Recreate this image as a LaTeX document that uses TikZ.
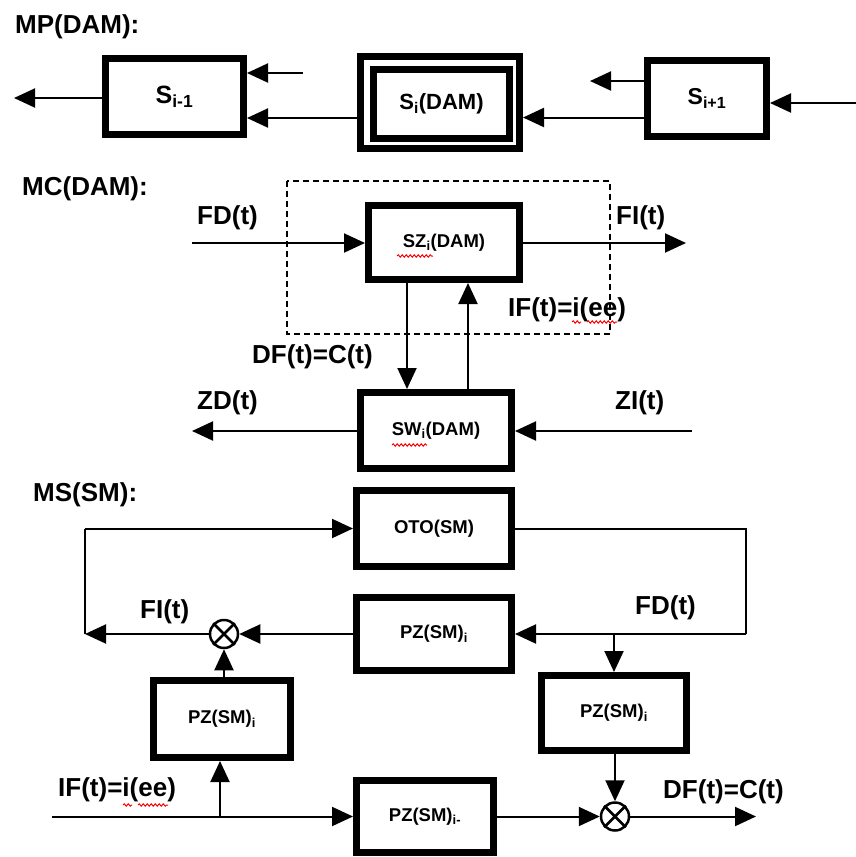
\documentclass[tikz,border=0pt]{standalone}
\usepackage{fontspec}
\setmainfont{Liberation Sans}
\usetikzlibrary{arrows.meta,decorations.pathmorphing}
\tikzset{
  blk/.style={draw,line width=7pt,inner sep=0pt,font=\bfseries\fontsize{18.5}{20}\selectfont},
  lbl/.style={anchor=west,inner sep=0pt,font=\bfseries\fontsize{26}{28}\selectfont},
  arr/.style={line width=2pt,-{Triangle[length=21pt,width=19pt]}},
  ln/.style={line width=2pt},
  otim/.style={draw,circle,line width=2.5pt,minimum size=28pt,inner sep=0pt},
  squig/.style={red,line width=1pt,decorate,decoration={snake,segment length=4pt,amplitude=1.2pt}}
}
\begin{document}
\begin{tikzpicture}[x=1pt,y=-1pt]
\useasboundingbox (0,0) rectangle (856,857);
% ---------- MP(DAM)
\node[lbl] (tMP) at (15,27) {MP(DAM):};
\node[blk,minimum width=138pt,minimum height=76pt,font=\bfseries\fontsize{25}{27}\selectfont] (Sm) at (174.5,96.5) {S\textsubscript{i-1}};
\node[blk,minimum width=159pt,minimum height=92pt] (Si) at (440,102.5) {};
\node[blk,minimum width=136pt,minimum height=69pt,font=\bfseries\fontsize{22}{24}\selectfont] (Sii) at (441.5,104) {S\textsubscript{i}(DAM)};
\node[blk,minimum width=119pt,minimum height=76pt,font=\bfseries\fontsize{23}{25}\selectfont] (Sp) at (707,98.5) {S\textsubscript{i+1}};
\coordinate (mpL) at (14,98);
\coordinate (mpA) at (303,73);
\coordinate (mpB) at (590,81);
\coordinate (mpR) at (856,103);
\draw[arr] (Sm.west |- mpL) -- (mpL);
\draw[arr] (mpA) -- (mpA -| Sm.east);
\draw[arr] (Si.west |- 0,118) -- (Sm.east |- 0,118);
\draw[arr] (Sp.west |- mpB) -- (mpB);
\draw[arr] (Sp.west |- 0,117.5) -- (Si.east |- 0,117.5);
\draw[arr] (mpR) -- (mpR -| Sp.east);
% ---------- MC(DAM)
\node[lbl] (tMC) at (22,189) {MC(DAM):};
\draw[dashed,line width=2pt,dash pattern=on 6pt off 4pt] (287,181) rectangle (610,334);
\node[blk,minimum width=151pt,minimum height=74pt] (SZ) at (444,242.5) {SZ\textsubscript{i}(DAM)};
\node[blk,minimum width=151pt,minimum height=76pt] (SW) at (436,430.5) {SW\textsubscript{i}(DAM)};
\coordinate (fdin) at (192,243);
\coordinate (fiout) at (686,243);
\coordinate (zdout) at (192,431);
\coordinate (ziin) at (692,431);
\draw[arr] (fdin) -- (fdin -| SZ.west);
\draw[arr] (SZ.east |- fiout) -- (fiout);
\draw[arr] (SZ.south -| 407,0) -- (SW.north -| 407,0);
\draw[arr] (SW.north -| 468,0) -- (SZ.south -| 468,0);
\draw[arr] (SW.west |- zdout) -- (zdout);
\draw[arr] (ziin) -- (ziin -| SW.east);
\node[lbl] (lFD) at (197,218) {FD(t)};
\node[lbl] (lFI) at (616,218) {FI(t)};
\node[lbl] (lIF) at (508,310) {IF(t)=i(ee)};
\node[lbl] (lDF) at (252,357) {DF(t)=C(t)};
\node[lbl] (lZD) at (197,403) {ZD(t)};
\node[lbl] (lZI) at (615,403) {ZI(t)};
\draw[squig] (397,256) -- (433,256);
\draw[squig] (392,445) -- (427,445);
\draw[squig] (572,322) -- (581,322);
\draw[squig] (587,322) -- (617,322);
% ---------- MS(SM)
\node[lbl] (tMS) at (33,495) {MS(SM):};
\node[blk,minimum width=155pt,minimum height=76pt] (OTO) at (434,528.5) {OTO(SM)};
\node[blk,minimum width=155pt,minimum height=73pt] (PZa) at (434,634) {PZ(SM)\textsubscript{i}};
\node[blk,minimum width=145pt,minimum height=75pt] (PZb) at (614,713) {PZ(SM)\textsubscript{i}};
\node[blk,minimum width=137pt,minimum height=77pt] (PZc) at (222,719) {PZ(SM)\textsubscript{i}};
\node[blk,minimum width=137pt,minimum height=72pt] (PZd) at (425,816.5) {PZ(SM)\textsubscript{i-}};
\node[otim] (ot1) at (224,634) {};
\node[otim] (ot2) at (615,816.5) {};
\draw[line width=2.5pt] (ot1.45) -- (ot1.225) (ot1.135) -- (ot1.315);
\draw[line width=2.5pt] (ot2.45) -- (ot2.225) (ot2.135) -- (ot2.315);
\coordinate (lpB) at (85,634);
\coordinate (lpT) at (85,528.5);
\coordinate (rpT) at (746,528.5);
\coordinate (rpB) at (746,634);
\coordinate (br) at (614,634);
\coordinate (ifin) at (52,816.5);
\coordinate (br2) at (220,816.5);
\coordinate (dfout) at (756,816.5);
\draw[ln] (lpB) -- (lpT);
\draw[arr] (lpT) -- (OTO.west);
\draw[ln] (OTO.east) -- (rpT) -- (rpB);
\draw[arr] (rpB) -- (PZa.east);
\draw[arr] (br) -- (PZb.north);
\draw[arr] (PZa.west) -- (ot1.east);
\draw[arr] (ot1.west) -- (lpB);
\draw[arr] (PZc.north -| ot1) -- (ot1.south);
\draw[arr] (ifin) -- (PZd.west);
\draw[arr] (br2) -- (br2 |- PZc.south);
\draw[arr] (PZd.east) -- (ot2.west);
\draw[arr] (PZb.south -| ot2) -- (ot2.north);
\draw[arr] (ot2.east) -- (dfout);
\node[lbl] (lFI2) at (140,612) {FI(t)};
\node[lbl] (lFD2) at (635,608) {FD(t)};
\node[lbl] (lIF2) at (58,790) {IF(t)=i(ee)};
\node[lbl] (lDF2) at (663,792) {DF(t)=C(t)};
\draw[squig] (123,805) -- (132,805);
\draw[squig] (138,805) -- (168,805);
\end{tikzpicture}
\end{document}
